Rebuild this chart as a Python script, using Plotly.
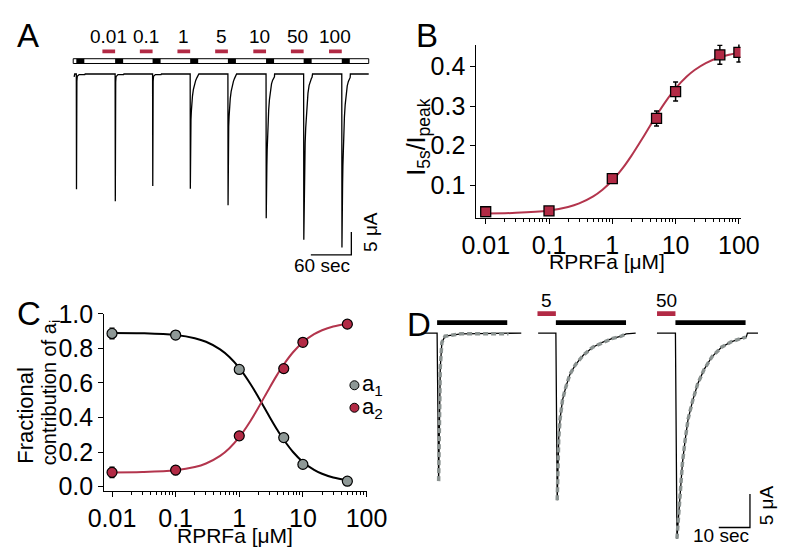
import plotly.graph_objects as go

W, H = 793, 556
def px(x): return x / W
def py(y): return 1 - y / H

FONT = "Liberation Sans, Arial, Helvetica, sans-serif"
RED = "#b22a45"
RED_LINE = "#b3354d"
GRAY = "#8e9896"
DASHGRAY = "#8a9290"

# ---------------- Panel A data ----------------
a_conc_labels = ["0.01", "0.1", "1", "5", "10", "50", "100"]
a_pulse_t = [11.7, 69.3, 124.9, 180.7, 236.7, 293.3, 349.1, 405.7]   # s
a_peak = [25.1, 27.7, 24.4, 25.0, 28.6, 31.4, 36.1, 37.8]            # uA
a_shape = ["fast", "fast", "fast", "5", "5", "50", "50", "50"]
a_tail_scale = 0.55
a_pre_dur = 18.9
a_pulse_dur = 11.9
a_record = [8.5, 445.7]

# ---------------- Panel D data (time since pulse onset [s], current [uA]) ----
d_fast_t = [0, 0.49, 1.01, 1.53, 2.54, 7.65, 22.9]
d_fast_i = [0, -22.1, -5.2, -1.4, -0.46, -0.11, -0.11]
d5_t = [0, 0.43, 0.61, 0.92, 1.35, 2.14, 3.18, 4.5, 6.24, 8.78, 11.83, 14.89, 17.95, 21.0, 22.54]
d5_i = [0, -24.97, -20.46, -15.69, -12.83, -9.97, -8.07, -6.17, -4.74, -3.31, -2.11, -1.40, -0.83, -0.46, -0.11]
d50_t = [0, 0.49, 1.01, 1.53, 2.23, 3.06, 4.07, 5.6, 7.13, 9.17, 11.71, 14.77, 17.83, 20.89, 22.72, 23.1]
d50_i = [0, -30.69, -27.1, -23.3, -19.5, -16.17, -12.83, -9.97, -7.6, -5.46, -3.54, -2.11, -1.31, -0.83, -0.6, 0]
d_labels = ["", "5", "50"]
d_onset = [6.64, 44.74, 83.09]
d_base_start = [1.53, 39.05, 77.16]
d_base_end = [33.64, 70.34, 109.57]
d_pre_dur = 5.9
d_pulse_dur = 22.5

# ---------------- Panel B data ----------------
b_conc = [0.01, 0.1, 1, 5, 10, 50, 100]
b_ratio = [0.033, 0.035, 0.117, 0.269, 0.337, 0.430, 0.436]
b_err = [0.004, 0.004, 0.010, 0.019, 0.024, 0.024, 0.024]
b_fit_x = [0.01, 0.03, 0.1, 0.2, 0.3, 0.5, 0.7, 1, 1.5, 2, 3, 4, 5, 7, 10, 15, 20, 30, 50, 70, 100]
b_fit_y = [0.0287, 0.0302, 0.0362, 0.0452, 0.0542, 0.0719, 0.0887, 0.1119, 0.1458, 0.1743,
           0.2188, 0.2518, 0.2768, 0.3123, 0.3451, 0.3750, 0.3915, 0.4091, 0.4237, 0.4301, 0.4348]

# ---------------- Panel C data ----------------
c_conc = [0.01, 0.1, 1, 5, 10, 50]
c_a1 = [0.886, 0.877, 0.678, 0.284, 0.129, 0.032]
c_a1_err = [0.03, 0.025, 0.01, 0.01, 0.012, 0.005]
c_a2 = [0.083, 0.096, 0.294, 0.683, 0.835, 0.940]
c_a2_err = [0.03, 0.025, 0.01, 0.01, 0.01, 0.005]
c_fit_x = [0.01, 0.03, 0.1, 0.2, 0.3, 0.5, 0.7, 1, 1.5, 2, 3, 4, 5, 7, 10, 15, 20, 30, 50]
c_fit_a1 = [0.8893, 0.8872, 0.8769, 0.8586, 0.8380, 0.7944, 0.7504, 0.6872, 0.5943, 0.5176,
            0.4037, 0.3261, 0.2713, 0.2007, 0.1432, 0.0972, 0.0746, 0.0531, 0.0374]
c_fit_a2 = [0.0827, 0.0848, 0.0952, 0.1137, 0.1344, 0.1784, 0.2229, 0.2866, 0.3804, 0.4578,
            0.5728, 0.6510, 0.7064, 0.7776, 0.8357, 0.8821, 0.9049, 0.9266, 0.9425]
c_legend = ["a<sub>1</sub>", "a<sub>2</sub>"]

tick_labels_x = ["0.01", "0.1", "1", "10", "100"]
tick_vals_x = [0.01, 0.1, 1, 10, 100]
minor_x = [m * d for d in [0.01, 0.1, 1, 10] for m in range(2, 10)]

TICK_FS = 25
TITLE_FS = 21

fig = go.Figure()

# ---------- Panel A traces ----------
shapes_lib = {"fast": (d_fast_t, d_fast_i), "5": (d5_t, d5_i), "50": (d50_t, d50_i)}
ax_t, ax_i = [a_record[0], a_record[0] + 0.8], [-0.6, 0]
for t0, pk, sh in zip(a_pulse_t, a_peak, a_shape):
    st, si = shapes_lib[sh]
    ref = -min(si)
    ax_t.append(t0); ax_i.append(0)
    for tt, ii in zip(st[1:], si[1:]):
        ax_t.append(t0 + tt * a_tail_scale); ax_i.append(ii * pk / ref)
    ax_t.append(t0 + st[-1] * a_tail_scale + 0.5); ax_i.append(0)
ax_t.append(a_record[1]); ax_i.append(0)
fig.add_trace(go.Scatter(x=ax_t, y=ax_i, mode="lines", line=dict(color="black", width=1.3),
                         xaxis="x", yaxis="y", showlegend=False, hoverinfo="skip"))

# ---------- Panel D traces ----------
d_curves = [(d_fast_t, d_fast_i), (d5_t, d5_i), (d50_t, d50_i)]
for k, (ct, ci) in enumerate(d_curves):
    t0 = d_onset[k]
    xs = [d_base_start[k]] + [t0 + v for v in ct] + [d_base_end[k]]
    ys = [0] + list(ci) + [0]
    fig.add_trace(go.Scatter(x=xs, y=ys, mode="lines", line=dict(color="black", width=1.3),
                             xaxis="x4", yaxis="y4", showlegend=False, hoverinfo="skip"))
    n_fit = len(ct) - (1 if ci[-1] == 0 and k == 2 else 0)
    fig.add_trace(go.Scatter(x=[t0 + v for v in ct[1:n_fit]], y=ci[1:n_fit], mode="lines",
                             line=dict(color=DASHGRAY, width=3.5, dash="5px,3px"),
                             xaxis="x4", yaxis="y4", showlegend=False, hoverinfo="skip"))

# ---------- Panel B ----------
fig.add_trace(go.Scatter(x=b_fit_x, y=b_fit_y, mode="lines", line=dict(color=RED_LINE, width=2, shape="spline"),
                         xaxis="x2", yaxis="y2", showlegend=False, hoverinfo="skip"))
fig.add_trace(go.Scatter(x=b_conc, y=b_ratio, mode="markers",
                         marker=dict(symbol="square", size=10, color=RED, line=dict(color="black", width=1.3)),
                         error_y=dict(type="data", array=b_err, color="black", thickness=1.5, width=2.5),
                         xaxis="x2", yaxis="y2", showlegend=False))

# ---------- Panel C ----------
fig.add_trace(go.Scatter(x=c_fit_x, y=c_fit_a1, mode="lines", line=dict(color="black", width=2, shape="spline"),
                         xaxis="x3", yaxis="y3", showlegend=False, hoverinfo="skip"))
fig.add_trace(go.Scatter(x=c_fit_x, y=c_fit_a2, mode="lines", line=dict(color=RED_LINE, width=2, shape="spline"),
                         xaxis="x3", yaxis="y3", showlegend=False, hoverinfo="skip"))
fig.add_trace(go.Scatter(x=c_conc, y=c_a1, mode="markers", name="a1", showlegend=False,
                         marker=dict(symbol="circle", size=10, color=GRAY, line=dict(color="black", width=1.2)),
                         error_y=dict(type="data", array=c_a1_err, color="black", thickness=1.5, width=2.5),
                         xaxis="x3", yaxis="y3"))
fig.add_trace(go.Scatter(x=c_conc, y=c_a2, mode="markers", name="a2", showlegend=False,
                         marker=dict(symbol="circle", size=10, color=RED, line=dict(color="black", width=1.2)),
                         error_y=dict(type="data", array=c_a2_err, color="black", thickness=1.5, width=2.5),
                         xaxis="x3", yaxis="y3"))

# ---------- shapes ----------
shapes = []
shapes.append(dict(type="rect", xref="x", yref="y", x0=a_record[0] - 1.4, x1=a_record[1], y0=2.29, y1=3.33,
                   fillcolor="white", line=dict(color="black", width=1)))
for t0 in a_pulse_t:
    shapes.append(dict(type="rect", xref="x", yref="y", x0=t0, x1=t0 + a_pulse_dur, y0=2.29, y1=3.33,
                       fillcolor="black", line=dict(width=0)))
for t0 in a_pulse_t[1:]:
    shapes.append(dict(type="rect", xref="x", yref="y", x0=t0 - a_pre_dur, x1=t0, y0=4.52, y1=5.35,
                       fillcolor=RED, line=dict(width=0)))
shapes.append(dict(type="path", xref="x", yref="y", path="M 359.8 -39.38 L 419.9 -39.38 L 419.9 -34.38",
                   line=dict(color="black", width=1.3)))
for k, t0 in enumerate(d_onset):
    shapes.append(dict(type="rect", xref="x4", yref="y4", x0=t0, x1=t0 + d_pulse_dur, y0=1.21, y1=1.93,
                       fillcolor="black", line=dict(width=0)))
    if d_labels[k]:
        shapes.append(dict(type="rect", xref="x4", yref="y4", x0=t0 - d_pre_dur, x1=t0, y0=2.54, y1=3.26,
                           fillcolor=RED, line=dict(width=0)))
shapes.append(dict(type="path", xref="x4", yref="y4", path="M 97.0 -29.03 L 107.0 -29.03 L 107.0 -24.03",
                   line=dict(color="black", width=1.3)))
for col, yy in zip([GRAY, RED], [388, 411.5]):
    shapes.append(dict(type="circle", xref="paper", yref="paper", xsizemode="pixel", ysizemode="pixel",
                       xanchor=px(355), yanchor=py(yy), x0=-4.5, x1=4.5, y0=-4.5, y1=4.5,
                       fillcolor=col, line=dict(color="black", width=1)))

# ---------- annotations ----------
ann = []
def letter(t, x, y):
    ann.append(dict(text=t, x=px(x), y=py(y), xref="paper", yref="paper", showarrow=False,
                    font=dict(family=FONT, size=33, color="black"), xanchor="center", yanchor="middle"))
letter("A", 13, 22); letter("B", 431, 22); letter("C", 14, 313); letter("D", 423, 324)

for lab, t0 in zip(a_conc_labels, a_pulse_t[1:]):
    ann.append(dict(text=lab, x=t0 - a_pre_dur / 2, y=8.27, xref="x", yref="y", showarrow=False,
                    font=dict(family=FONT, size=19, color="black"), xanchor="center", yanchor="middle"))
for lab, t0 in zip(d_labels, d_onset):
    if lab:
        ann.append(dict(text=lab, x=t0 - d_pre_dur / 2, y=4.8, xref="x4", yref="y4", showarrow=False,
                        font=dict(family=FONT, size=19, color="black"), xanchor="center", yanchor="middle"))

for lab, yy in zip(c_legend, [388, 411.5]):
    ann.append(dict(text=lab, x=px(361), y=py(yy), xref="paper", yref="paper", showarrow=False,
                    xanchor="left", yanchor="middle", font=dict(family=FONT, size=22, color="black")))

ann.append(dict(text="60 sec", x=px(352), y=py(263), xref="paper", yref="paper", showarrow=False,
                xanchor="right", yanchor="middle", font=dict(family=FONT, size=19, color="black")))
ann.append(dict(text="5 μA", x=px(358), y=py(251), xref="paper", yref="paper", showarrow=False,
                xanchor="left", yanchor="bottom", textangle=-90, font=dict(family=FONT, size=19, color="black")))
ann.append(dict(text="10 sec", x=px(771), y=py(545), xref="paper", yref="paper", showarrow=False,
                xanchor="right", yanchor="middle", font=dict(family=FONT, size=19, color="black")))
ann.append(dict(text="5 μA", x=px(774), y=py(536), xref="paper", yref="paper", showarrow=False,
                xanchor="left", yanchor="bottom", textangle=-90, font=dict(family=FONT, size=19, color="black")))

ann.append(dict(text="I<sub>5s</sub>/I<sub>peak</sub>", x=px(422), y=py(128), xref="paper", yref="paper",
                showarrow=False, textangle=-90, font=dict(family=FONT, size=25, color="black"),
                xanchor="center", yanchor="middle"))
ann.append(dict(text="RPRFa [μM]", x=px(620), y=py(259), xref="paper", yref="paper", showarrow=False,
                font=dict(family=FONT, size=TITLE_FS, color="black"), xanchor="center", yanchor="middle"))
ann.append(dict(text="RPRFa [μM]", x=px(230), y=py(545), xref="paper", yref="paper", showarrow=False,
                font=dict(family=FONT, size=TITLE_FS, color="black"), xanchor="center", yanchor="middle"))
ann.append(dict(text="Fractional", x=px(10), y=py(472), xref="paper", yref="paper", showarrow=False,
                textangle=-90, font=dict(family=FONT, size=22, color="black"), xanchor="center", yanchor="bottom"))
ann.append(dict(text="contribution of a<sub>i</sub>", x=px(36), y=py(474), xref="paper", yref="paper",
                showarrow=False, textangle=-90, font=dict(family=FONT, size=20, color="black"),
                xanchor="center", yanchor="bottom"))

axis_common = dict(showline=True, linecolor="black", linewidth=1.3, ticks="outside", ticklen=5, tickwidth=1.3,
                   tickcolor="black", showgrid=False, zeroline=False, fixedrange=True,
                   tickfont=dict(family=FONT, size=TICK_FS, color="black"))
minor = dict(tickmode="array", tickvals=minor_x, ticks="outside", ticklen=3, tickwidth=1, tickcolor="black",
             showgrid=False)

fig.update_layout(
    width=W, height=H, margin=dict(l=0, r=0, t=0, b=0), autosize=False,
    paper_bgcolor="white", plot_bgcolor="rgba(0,0,0,0)",
    font=dict(family=FONT, color="black"),
    xaxis=dict(domain=[px(55), px(375)], range=[0, 452.8], visible=False, anchor="y", fixedrange=True),
    yaxis=dict(domain=[py(270), py(8)], range=[-43.19, 11.40], visible=False, anchor="x", fixedrange=True),
    xaxis2=dict(axis_common, domain=[px(483), px(760)], type="log", range=[-2.146, 2.026], anchor="y2",
                tickmode="array", tickvals=tick_vals_x, ticktext=tick_labels_x, minor=minor),
    yaxis2=dict(axis_common, domain=[py(213), py(32)], range=[0.0177, 0.4557], anchor="x2",
                tickmode="array", tickvals=[0.1, 0.2, 0.3, 0.4], ticktext=["0.1", "0.2", "0.3", "0.4"]),
    xaxis3=dict(axis_common, domain=[px(92.7), px(368)], type="log", range=[-2.12, 2.005], anchor="y3",
                tickmode="array", tickvals=tick_vals_x, ticktext=tick_labels_x, minor=minor),
    yaxis3=dict(axis_common, domain=[py(498), py(313.3)], range=[-0.022, 1.0], anchor="x3",
                tickmode="array", tickvals=[0, 0.2, 0.4, 0.6, 0.8, 1.0],
                ticktext=["0.0", "0.2", "0.4", "0.6", "0.8", "1.0"]),
    xaxis4=dict(domain=[px(420), px(790)], range=[0, 113.15], visible=False, anchor="y4", fixedrange=True),
    yaxis4=dict(domain=[py(556), py(290)], range=[-31.79, 6.21], visible=False, anchor="x4", fixedrange=True),
    shapes=shapes, annotations=ann,
    showlegend=False,
)

fig.write_html("out.html", config={"displayModeBar": False},
               post_script="document.body.style.margin='0';document.body.style.overflow='hidden';")
